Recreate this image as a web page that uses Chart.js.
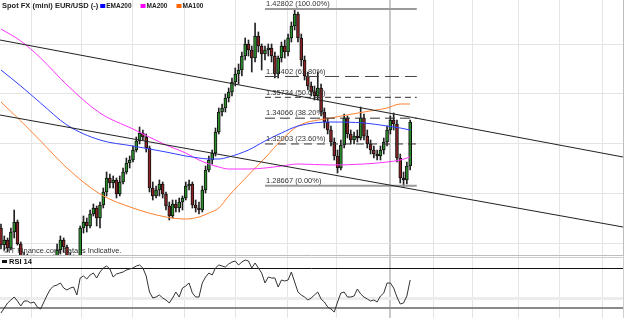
<!DOCTYPE html>
<html>
<head>
<meta charset="utf-8">
<script src="https://cdn.jsdelivr.net/npm/chart.js@4.4.0/dist/chart.umd.min.js"></script>
<style>
  html, body { margin: 0; padding: 0; background: #fff; }
  #wrap { position: relative; width: 625px; height: 318px; overflow: hidden; background: #fff; }
  #priceChart { position: absolute; left: 0; top: 0; }
  #rsiChart { position: absolute; left: 0; top: 256px; }
</style>
</head>
<body>
<div id="wrap">
  <canvas id="priceChart" width="625" height="256"></canvas>
  <canvas id="rsiChart" width="625" height="62"></canvas>
</div>
<script>
// EUR/USD daily candles, index = bar number
const opens = [
  1.2528,1.2392,1.2432,1.2368,1.2496,1.2576,1.2400,1.2304,1.2288,1.2272,
  1.2288,1.2264,1.2280,1.2256,1.2272,1.2264,1.2280,1.2256,1.2352,1.2432,
  1.2376,1.2304,1.2280,1.2264,1.2272,1.2528,1.2576,1.2544,1.2640,1.2688,
  1.2608,1.2712,1.2816,1.2928,1.2888,1.2912,1.2800,1.2896,1.2976,1.3048,
  1.3072,1.3152,1.3224,1.3288,1.3256,1.3168,1.2848,1.2784,1.2832,1.2880,
  1.2800,1.2704,1.2624,1.2720,1.2688,1.2736,1.2768,1.2864,1.2880,1.2712,
  1.2688,1.2672,1.2832,1.2992,1.3072,1.3128,1.3296,1.3456,1.3488,1.3568,
  1.3616,1.3696,1.3760,1.3792,1.3904,1.4000,1.3952,1.3888,1.4064,1.3984,
  1.3920,1.3952,1.3968,1.3904,1.3760,1.3888,1.3984,1.3936,1.4048,1.4144,
  1.4240,1.4048,1.3872,1.3744,1.3664,1.3616,1.3584,1.3648,1.3456,1.3376,
  1.3312,1.3216,1.3104,1.3008,1.3192,1.3408,1.3280,1.3232,1.3264,1.3248,
  1.3408,1.3264,1.3200,1.3152,1.3120,1.3104,1.3152,1.3216,1.3312,1.3392,
  1.3360,1.3088,1.2928,1.2912,1.3024
];
const highs = [
  1.2560,1.2464,1.2448,1.2528,1.2672,1.2592,1.2416,1.2336,1.2320,1.2304,
  1.2312,1.2296,1.2304,1.2296,1.2304,1.2296,1.2312,1.2400,1.2464,1.2448,
  1.2392,1.2328,1.2312,1.2304,1.2544,1.2624,1.2608,1.2672,1.2720,1.2704,
  1.2736,1.2848,1.2976,1.2960,1.2944,1.2928,1.2944,1.3008,1.3088,1.3104,
  1.3184,1.3256,1.3336,1.3312,1.3280,1.3184,1.2896,1.2864,1.2912,1.2896,
  1.2816,1.2736,1.2752,1.2752,1.2768,1.2784,1.2896,1.2912,1.2896,1.2752,
  1.2736,1.2864,1.3024,1.3104,1.3152,1.3328,1.3488,1.3520,1.3600,1.3648,
  1.3728,1.3808,1.3840,1.3936,1.4048,1.4032,1.3984,1.4168,1.4096,1.4000,
  1.3984,1.4000,1.4000,1.3936,1.3904,1.4016,1.4032,1.4080,1.4176,1.4280,
  1.4256,1.4080,1.3904,1.3776,1.3696,1.3664,1.3776,1.3680,1.3488,1.3408,
  1.3344,1.3248,1.3152,1.3232,1.3440,1.3424,1.3312,1.3296,1.3312,1.3496,
  1.3440,1.3312,1.3232,1.3184,1.3152,1.3184,1.3248,1.3344,1.3424,1.3448,
  1.3392,1.3120,1.2976,1.3056,1.3392
];
const lows = [
  1.2360,1.2352,1.2336,1.2352,1.2448,1.2392,1.2256,1.2256,1.2240,1.2240,
  1.2240,1.2240,1.2240,1.2240,1.2240,1.2240,1.2240,1.2256,1.2320,1.2336,
  1.2256,1.2240,1.2240,1.2240,1.2256,1.2488,1.2496,1.2528,1.2624,1.2544,
  1.2528,1.2688,1.2784,1.2848,1.2848,1.2768,1.2784,1.2880,1.2960,1.3008,
  1.3056,1.3136,1.3200,1.3232,1.3136,1.2816,1.2752,1.2768,1.2784,1.2768,
  1.2672,1.2592,1.2608,1.2656,1.2656,1.2672,1.2752,1.2832,1.2688,1.2656,
  1.2640,1.2656,1.2808,1.2976,1.3040,1.3104,1.3280,1.3424,1.3456,1.3536,
  1.3584,1.3664,1.3680,1.3744,1.3872,1.3904,1.3776,1.3856,1.3936,1.3792,
  1.3872,1.3904,1.3856,1.3728,1.3728,1.3856,1.3888,1.3904,1.4016,1.4112,
  1.4016,1.3824,1.3712,1.3632,1.3584,1.3552,1.3552,1.3424,1.3328,1.3280,
  1.3184,1.3072,1.2968,1.2992,1.3168,1.3248,1.3200,1.3200,1.3216,1.3232,
  1.3232,1.3168,1.3120,1.3088,1.3072,1.3072,1.3120,1.3184,1.3280,1.3312,
  1.3056,1.2888,1.2856,1.2880,1.2992
];
const closes = [
  1.2392,1.2432,1.2368,1.2496,1.2576,1.2400,1.2304,1.2288,1.2272,1.2288,
  1.2264,1.2280,1.2256,1.2272,1.2264,1.2280,1.2256,1.2352,1.2432,1.2376,
  1.2304,1.2280,1.2264,1.2272,1.2528,1.2576,1.2544,1.2640,1.2688,1.2608,
  1.2712,1.2816,1.2928,1.2888,1.2912,1.2800,1.2896,1.2976,1.3048,1.3072,
  1.3152,1.3224,1.3288,1.3256,1.3168,1.2848,1.2784,1.2832,1.2880,1.2800,
  1.2704,1.2624,1.2720,1.2688,1.2736,1.2768,1.2864,1.2880,1.2712,1.2688,
  1.2672,1.2832,1.2992,1.3072,1.3128,1.3296,1.3456,1.3488,1.3568,1.3616,
  1.3696,1.3760,1.3792,1.3904,1.4000,1.3952,1.3888,1.4064,1.3984,1.3920,
  1.3952,1.3968,1.3904,1.3760,1.3888,1.3984,1.3936,1.4048,1.4144,1.4240,
  1.4048,1.3872,1.3744,1.3664,1.3616,1.3584,1.3648,1.3456,1.3376,1.3312,
  1.3216,1.3104,1.3008,1.3192,1.3408,1.3280,1.3232,1.3264,1.3248,1.3408,
  1.3264,1.3200,1.3152,1.3120,1.3104,1.3152,1.3216,1.3312,1.3392,1.3360,
  1.3088,1.2928,1.2912,1.3024,1.3376
];

// moving averages, sampled at these bar numbers
const maX    = [0, 6, 12, 20, 30, 40, 50, 56, 60, 63, 66, 69, 75, 80, 85, 90, 100, 110, 117, 121, 124];
const ema200 = [1.3792,1.3664,1.3528,1.3352,1.3232,1.3184,1.3136,1.3104,1.3088,1.3080,1.3080,1.3096,1.3152,1.3224,1.3288,1.3344,1.3376,1.3368,1.3344,1.3328,1.3312];
const ma200  = [1.4120,1.4024,1.3888,1.3672,1.3448,1.3320,1.3192,1.3128,1.3072,1.3040,1.3016,1.3000,1.3000,1.3008,1.3024,1.3040,1.3032,1.3040,1.3056,1.3072,1.3096];
const ma100  = [1.3536,1.3384,1.3224,1.3008,1.2800,1.2688,1.2616,1.2600,1.2616,1.2648,1.2688,1.2784,1.2952,1.3088,1.3232,1.3344,1.3408,1.3456,1.3488,1.3520,1.3520];

// RSI 14, one per bar
const rsi14 = [
  25,30,35,38,41,37,32,37,37,35, 36,31,29,36,43,49,52,53,55,50,
  48,50,51,43,60,62,59,63,65,60, 66,70,72,69,61,64,65,66,68,69,
  70,72,73,70,62,46,40,41,43,40, 38,35,40,46,41,50,52,55,45,41,
  41,55,61,65,63,70,73,72,71,74, 76,77,73,76,78,77,70,75,70,65,
  55,61,60,60,51,58,57,58,66,56, 46,43,41,38,40,43,46,39,36,31,
  29,26,36,45,46,41,41,42,49,44, 41,39,37,38,36,42,45,55,55,50,
  41,34,35,42,58
];

// trend channel
const trendX     = [-0.3, 188.5];
const upperTrend = [1.4032, 1.3096];
const lowerTrend = [1.3432, 1.2536];

// Fibonacci retracement
const fibX      = [80, 126];
const fibLevels = [1.42802, 1.37402, 1.35734, 1.34066, 1.32003, 1.28667];
const fibPct    = ['100.00%', '61.80%', '50.00%', '38.20%', '23.60%', '0.00%'];

// axes
const xMin = -0.3, xMax = 188.5;
const xGridTicks = [9.1, 24.5, 40, 55.5, 71.2, 86.7, 101.8, 117.9, 131.2, 143, 156.7, 169.4, 182.4];
const strongTick = 117.9;
const yMin = 1.2304, yMax = 1.4352;
const yGridTicks = [1.24, 1.28, 1.32, 1.36, 1.40];
const rsiMin = 20, rsiMax = 82;
const rsiGridTicks = [30, 40, 70];

const upColor = '#2b8f2b';
const downColor = '#8c2323';
const FONT = '"Liberation Sans", Arial, sans-serif';

const fibStyle = [
  { color: '#9a9a9a', width: 2, dash: [] },
  { color: '#444', width: 1, dash: [14, 6] },
  { color: '#333', width: 1, dash: [6, 4] },
  { color: '#333', width: 1, dash: [10, 5] },
  { color: '#333', width: 1, dash: [8, 5] },
  { color: '#9a9a9a', width: 2, dash: [] }
];

function xScaleOpts() {
  return {
    type: 'linear', min: xMin, max: xMax, offset: false,
    afterBuildTicks: s => { s.ticks = xGridTicks.map(v => ({ value: v })); },
    ticks: { display: false },
    grid: {
      offset: false,
      drawTicks: false,
      color: c => c.tick && c.tick.value === strongTick ? '#c9c9c9' : '#e4e4e4',
      lineWidth: c => c.tick && c.tick.value === strongTick ? 2 : 1
    },
    border: { display: false }
  };
}

// ---------- price panel ----------
const wickData = highs.map((h, i) => ({ x: i, y: [lows[i], h] }));
const bodyData = opens.map((o, i) => ({ x: i, y: [o, closes[i]] }));
const bodyColors = opens.map((o, i) => closes[i] >= o ? upColor : downColor);

const maLine = (vals, color, label) => ({
  type: 'line', label: label,
  data: maX.map((x, i) => ({ x: x, y: vals[i] })),
  borderColor: color, borderWidth: 1, pointRadius: 0,
  cubicInterpolationMode: 'monotone', order: 1
});

const straight = (xs, ys, color, width, dash) => ({
  type: 'line',
  data: xs.map((x, i) => ({ x: x, y: ys[i] })),
  borderColor: color, borderWidth: width, borderDash: dash,
  pointRadius: 0, tension: 0, order: 0
});

const datasets = [
  straight(trendX, upperTrend, '#222', 1, []),
  straight(trendX, lowerTrend, '#222', 1, []),
  ...fibLevels.map((lv, k) => straight(fibX, [lv, lv], fibStyle[k].color, fibStyle[k].width, fibStyle[k].dash)),
  maLine(ema200, '#3040ff', 'EMA200'),
  maLine(ma200, '#ff33ff', 'MA200'),
  maLine(ma100, '#ff8030', 'MA100'),
  {
    type: 'bar', data: bodyData, backgroundColor: bodyColors,
    borderColor: '#111', borderWidth: 1, borderSkipped: false,
    barThickness: 3, grouped: false, order: 2
  },
  {
    type: 'bar', data: wickData, backgroundColor: '#222',
    borderWidth: 0, barThickness: 1, grouped: false, order: 3
  }
];

const priceText = {
  id: 'priceText',
  beforeDatasetsDraw(chart) {
    const ctx = chart.ctx;
    ctx.save();
    ctx.font = '7.5px ' + FONT;
    ctx.fillStyle = '#333';
    ctx.textBaseline = 'middle';
    ctx.fillText('\u00A9IT Finance.com Data is Indicative.', 3, chart.chartArea.bottom - 5);
    ctx.restore();
  },
  afterDraw(chart) {
    const ctx = chart.ctx;
    const xs = chart.scales.x, ys = chart.scales.y;
    const area = chart.chartArea;
    ctx.save();
    // title and legend
    ctx.textBaseline = 'middle';
    ctx.font = 'bold 7.5px ' + FONT;
    ctx.fillStyle = '#222';
    const title = 'Spot FX (mini) EUR/USD (-)';
    ctx.fillText(title, 2, 6);
    let lx = 2 + ctx.measureText(title).width + 2;
    ctx.font = 'bold 6.5px ' + FONT;
    const legend = [['EMA200', '#0000ff'], ['MA200', '#ff00ff'], ['MA100', '#ff6600']];
    legend.forEach(([name, col]) => {
      ctx.fillStyle = col;
      ctx.fillRect(lx, 4, 5, 4);
      lx += 6;
      ctx.fillStyle = '#222';
      ctx.fillText(name, lx, 6);
      lx += ctx.measureText(name).width + 9;
    });
    // fib labels
    ctx.font = '7.5px ' + FONT;
    ctx.fillStyle = '#333';
    ctx.textBaseline = 'bottom';
    fibLevels.forEach((lv, k) => {
      ctx.fillText(lv.toFixed(5) + ' (' + fibPct[k] + ')', xs.getPixelForValue(fibX[0]) + 1, ys.getPixelForValue(lv) - 1);
    });
    // panel frame
    ctx.strokeStyle = '#bdbdbd';
    ctx.lineWidth = 1;
    ctx.beginPath();
    ctx.moveTo(area.left, area.bottom - 0.5);
    ctx.lineTo(area.right, area.bottom - 0.5);
    ctx.moveTo(area.right + 0.5, area.top);
    ctx.lineTo(area.right + 0.5, area.bottom);
    ctx.stroke();
    ctx.restore();
  }
};

new Chart(document.getElementById('priceChart'), {
  type: 'bar',
  data: { datasets: datasets },
  options: {
    responsive: false, animation: false, devicePixelRatio: 1,
    layout: { padding: { left: 0, right: 2, top: 0, bottom: 0 }, autoPadding: false },
    plugins: { legend: { display: false }, tooltip: { enabled: false } },
    scales: {
      x: xScaleOpts(),
      y: {
        min: yMin, max: yMax,
        afterBuildTicks: s => { s.ticks = yGridTicks.map(v => ({ value: v })); },
        ticks: { display: false },
        grid: { drawTicks: false, color: '#e4e4e4' },
        border: { display: false }
      }
    }
  },
  plugins: [priceText]
});

// ---------- RSI panel ----------
const rsiText = {
  id: 'rsiText',
  afterDraw(chart) {
    const ctx = chart.ctx;
    const area = chart.chartArea;
    ctx.save();
    ctx.strokeStyle = '#cfcfcf';
    ctx.lineWidth = 1;
    ctx.beginPath();
    ctx.moveTo(area.left, 1.5);
    ctx.lineTo(area.right, 1.5);
    ctx.moveTo(area.right + 0.5, area.top);
    ctx.lineTo(area.right + 0.5, area.bottom);
    ctx.stroke();
    ctx.fillStyle = '#111';
    ctx.fillRect(2, 4, 5, 3);
    ctx.font = 'bold 7.5px ' + FONT;
    ctx.textBaseline = 'middle';
    ctx.fillText('RSI 14', 9, 6);
    ctx.restore();
  }
};

new Chart(document.getElementById('rsiChart'), {
  type: 'line',
  data: {
    datasets: [{
      data: rsi14.map((v, i) => ({ x: i, y: v })),
      borderColor: '#333', borderWidth: 1, pointRadius: 0, tension: 0
    }]
  },
  options: {
    responsive: false, animation: false, devicePixelRatio: 1,
    layout: { padding: { left: 0, right: 2, top: 0, bottom: 0 }, autoPadding: false },
    plugins: { legend: { display: false }, tooltip: { enabled: false } },
    scales: {
      x: xScaleOpts(),
      y: {
        min: rsiMin, max: rsiMax,
        afterBuildTicks: s => { s.ticks = rsiGridTicks.map(v => ({ value: v })); },
        ticks: { display: false },
        grid: {
          drawTicks: false,
          color: c => c.tick.value === 70 ? '#111' : (c.tick.value === 30 ? '#8a8a8a' : '#ececec'),
          lineWidth: c => c.tick.value === 40 ? 3 : (c.tick.value === 30 ? 2 : 1)
        },
        border: { display: false }
      }
    }
  },
  plugins: [rsiText]
});
</script>
</body>
</html>
